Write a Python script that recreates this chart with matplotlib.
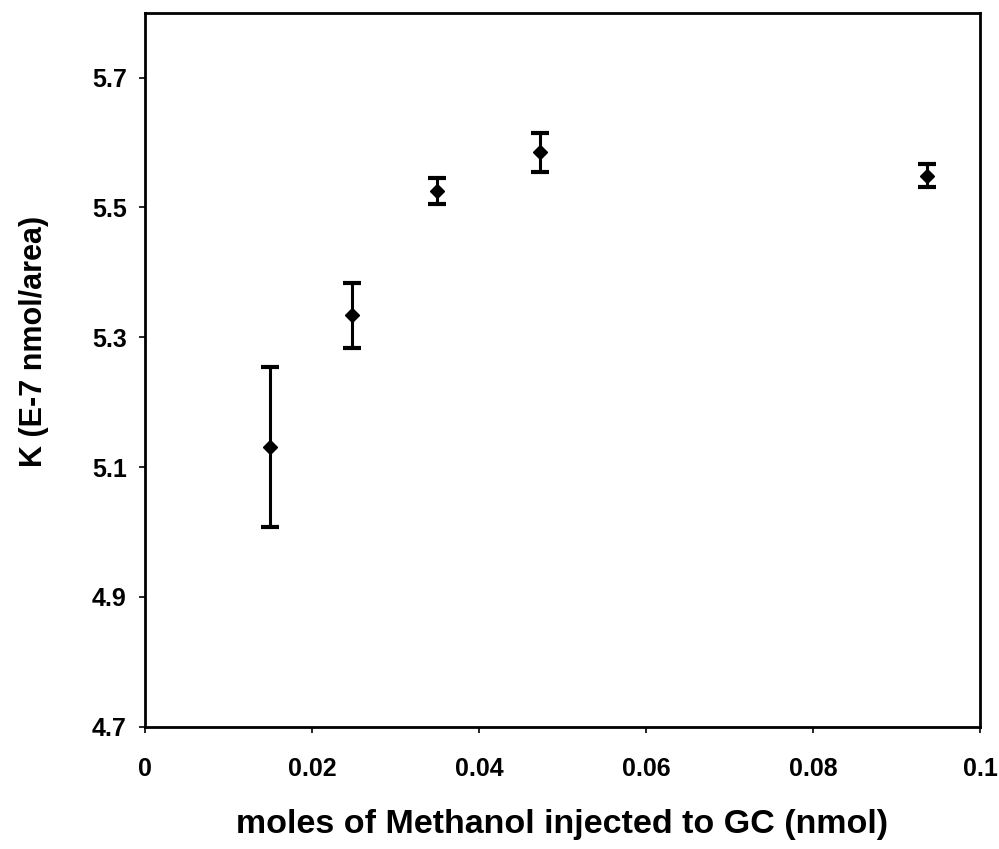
import matplotlib.pyplot as plt

moles = [0.015, 0.0248, 0.035, 0.0473, 0.0937]
k_vals = [5.131, 5.334, 5.526, 5.585, 5.549]
k_err = [0.123, 0.050, 0.020, 0.030, 0.018]

x_ticks = [0, 0.02, 0.04, 0.06, 0.08, 0.1]
x_tick_labels = ['0', '0.02', '0.04', '0.06', '0.08', '0.1']
y_ticks = [4.7, 4.9, 5.1, 5.3, 5.5, 5.7]
y_tick_labels = ['4.7', '4.9', '5.1', '5.3', '5.5', '5.7']

plt.rcParams['font.family'] = ['Liberation Sans', 'DejaVu Sans']
plt.rcParams['font.weight'] = 'bold'

fig = plt.figure(figsize=(9.99, 8.49), dpi=100)
ax = fig.add_axes([0.145, 0.144, 0.836, 0.841])

ax.errorbar(moles, k_vals, yerr=k_err, fmt='D', color='black', markersize=7.5,
            elinewidth=2.2, capsize=6.5, capthick=3)

ax.set_xlim(0, 0.1)
ax.set_ylim(4.7, 5.8)
ax.set_xticks(x_ticks)
ax.set_xticklabels(x_tick_labels)
ax.set_yticks(y_ticks)
ax.set_yticklabels(y_tick_labels)
ax.tick_params(axis='both', labelsize=18, length=4, width=1.2, direction='out')
ax.tick_params(axis='x', pad=18)
ax.tick_params(axis='y', pad=9)

for s in ax.spines.values():
    s.set_linewidth(2)

ax.set_xlabel('moles of Methanol injected to GC (nmol)', fontsize=24.5,
              fontweight='bold', labelpad=20)
ax.set_ylabel('K (E-7 nmol/area)', fontsize=22, fontweight='bold')
ax.yaxis.set_label_coords(-0.115, 0.54)

fig.savefig('out.png', dpi=100)
